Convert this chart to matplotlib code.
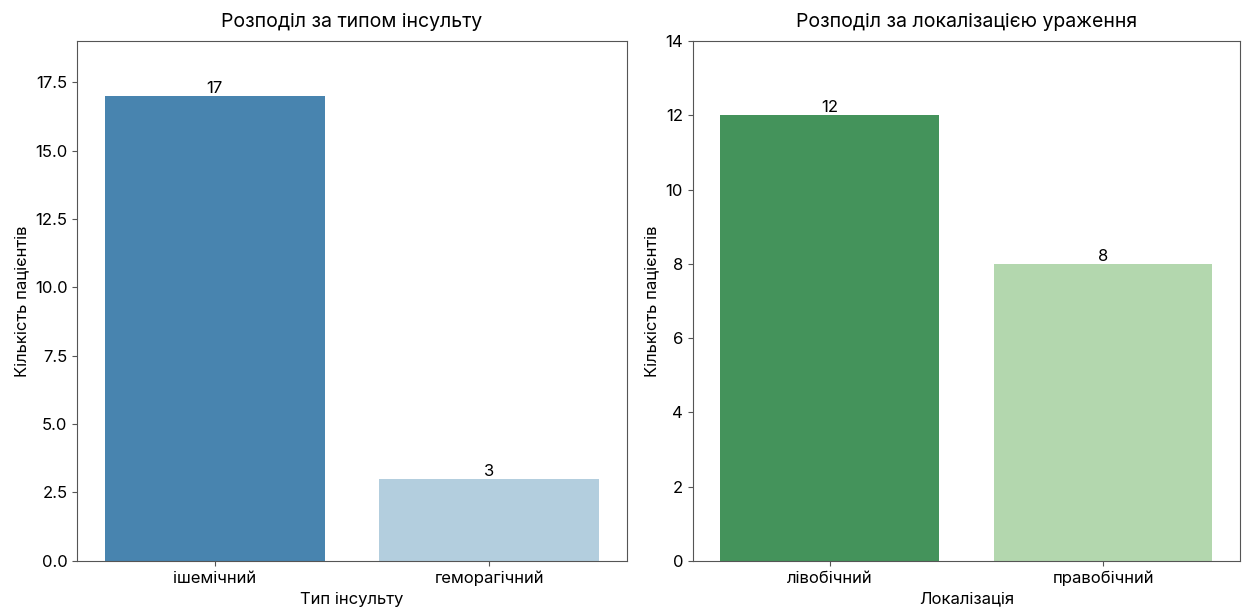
import matplotlib
matplotlib.use("Agg")
import matplotlib.pyplot as plt
import seaborn as sns
import pandas as pd

stroke_types = ["ішемічний", "геморагічний"]
stroke_counts = [17, 3]
locations = ["лівобічний", "правобічний"]
location_counts = [12, 8]

plt.rcParams['font.family'] = ['Inter', 'DejaVu Sans']

fig = plt.figure(figsize=(12.46, 6.13), dpi=100)
ax1 = fig.add_axes([0.062, 0.085, 0.503 - 0.062, 0.933 - 0.085])
ax2 = fig.add_axes([0.556, 0.085, 0.995 - 0.556, 0.933 - 0.085])

df1 = pd.DataFrame({"type": stroke_types, "count": stroke_counts})
df2 = pd.DataFrame({"loc": locations, "count": location_counts})

ax = ax1
sns.barplot(data=df1, x="type", y="count", hue="type", palette="Blues_r", legend=False, ax=ax)
ax.set_title("Розподіл за типом інсульту", fontsize=14, pad=10)
ax.set_xlabel("Тип інсульту", fontsize=12)
ax.set_ylabel("Кількість пацієнтів", fontsize=12)
ax.set_ylim(0, max(stroke_counts) + 2)
for c in ax.containers:
    ax.bar_label(c, fontsize=12)

ax = ax2
sns.barplot(data=df2, x="loc", y="count", hue="loc", palette="Greens_r", legend=False, ax=ax)
ax.set_title("Розподіл за локалізацією ураження", fontsize=14, pad=10)
ax.set_xlabel("Локалізація", fontsize=12)
ax.set_ylabel("Кількість пацієнтів", fontsize=12)
ax.set_ylim(0, max(location_counts) + 2)
for c in ax.containers:
    ax.bar_label(c, fontsize=12)

for a in (ax1, ax2):
    a.tick_params(labelsize=12, color="#555555")
    for s in a.spines.values():
        s.set_color("#555555")

fig.savefig("out.png", dpi=100)
